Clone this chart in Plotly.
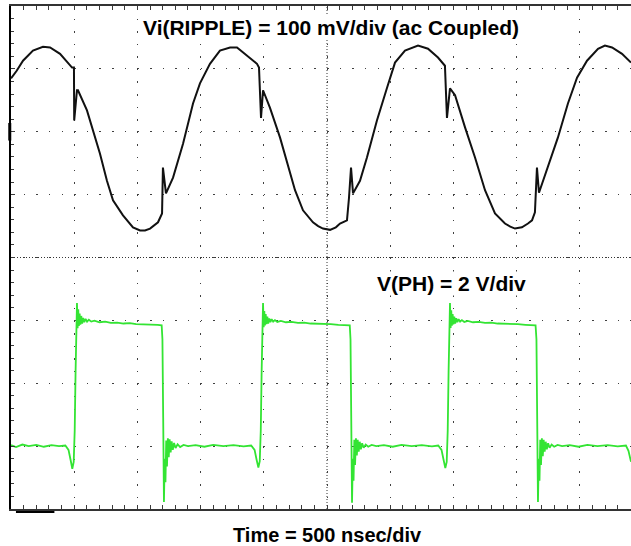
import plotly.graph_objects as go

# ---------------- data ----------------
NS_PER_DIV = 500      # time base
MV_PER_DIV = 100      # ripple channel
V_PER_DIV = 2         # PH channel

ripple_t_ns = [0, 45, 95, 174, 253, 309, 388, 451, 483, 498, 500, 522, 530, 601, 649, 704,
               759, 807, 886, 930, 965, 1021, 1060, 1100, 1163, 1195, 1202, 1226, 1282, 1361, 1440, 1495,
               1574, 1653, 1733, 1788, 1867, 1946, 1962, 1978, 1994, 2049, 2128, 2184, 2247,
               2310, 2389, 2430, 2468, 2524, 2570, 2603, 2658, 2674, 2690, 2706, 2761, 2816, 2895, 2975,
               3038, 3117, 3220, 3299, 3378, 3433, 3449, 3473, 3513, 3592, 3671, 3750, 3829,
               3908, 3950, 3987, 4042, 4090, 4122, 4145, 4161, 4177, 4248, 4327, 4406, 4478, 4557, 4644,
               4699, 4755, 4834, 4905]
ripple_mV = [85, 97, 113, 129, 135, 134, 124, 110, 102, 102, 18, 66, 66, 34, 2, -35,
             -78, -109, -133, -144, -152, -157, -157, -154, -144, -130, -57, -98, -73, -19, 45, 77,
             108, 129, 134, 134, 121, 108, 102, 22, 66, 38, -9, -50, -93,
             -125, -144, -150, -154, -156, -152, -146, -141, -105, -57, -98, -78, -41, 18, 70,
             110, 129, 137, 132, 118, 105, 22, 69, 58, 7, -41, -93, -130,
             -146, -151, -154, -152, -146, -141, -128, -57, -97, -57, -9, 45, 86, 113, 132,
             137, 134, 124, 110]

ph_t_ns = [0, 40, 90, 140, 200, 260, 320, 380, 430,
           455, 472, 485, 496, 504, 511, 517, 522,
           527, 532, 537, 543, 549, 556, 563, 571, 580, 590, 602, 616, 635, 660, 700, 745,
           790, 840, 890, 940, 990, 1050, 1110, 1160, 1192,
           1198, 1204, 1210,
           1216, 1222, 1228, 1234, 1241, 1248, 1255, 1263, 1271, 1280, 1290, 1302, 1318,
           1338, 1365, 1400, 1460, 1530, 1600, 1680, 1760, 1840, 1900,
           1927, 1944, 1957, 1968, 1976, 1983, 1989, 1994,
           1999, 2004, 2009, 2015, 2021, 2028, 2035, 2043, 2052, 2062, 2074, 2088, 2107,
           2135, 2175, 2220, 2270, 2320, 2370, 2420, 2470, 2530, 2590, 2640, 2680,
           2686, 2692, 2698,
           2704, 2710, 2716, 2722, 2729, 2736, 2743, 2751, 2759, 2768, 2778, 2790, 2806,
           2826, 2853, 2890, 2950, 3020, 3090, 3170, 3250, 3330, 3380,
           3406, 3423, 3436, 3447, 3455, 3462, 3468, 3473,
           3478, 3483, 3488, 3494, 3500, 3507, 3514, 3522, 3531, 3541, 3553, 3567, 3586,
           3614, 3655, 3700, 3750, 3800, 3850, 3900, 3950, 4010, 4070, 4120, 4150,
           4157, 4163, 4169,
           4175, 4181, 4187, 4193, 4200, 4207, 4214, 4222, 4230, 4239, 4249, 4261, 4277,
           4297, 4324, 4360, 4420, 4490, 4560, 4640, 4720, 4800, 4865,
           4885, 4905]
ph_V = [0.03, -0.03, 0.05, 0.0, 0.04, -0.02, 0.03, 0.0, 0.02,
        -0.12, -0.45, -0.72, -0.5, 0.5, 2.4, 3.9, 4.55,
        3.75, 4.35, 3.82, 4.22, 3.86, 4.14, 3.9, 4.08, 3.94, 4.05, 3.96, 4.02, 3.96, 3.99, 3.94, 3.96,
        3.92, 3.93, 3.9, 3.91, 3.88, 3.88, 3.86, 3.86, 3.84,
        3.4, 0.9, -1.78,
        -0.4, -1.15, 0.18, -0.65, 0.25, -0.35, 0.22, -0.2, 0.15, -0.12, 0.1, -0.06, 0.06,
        -0.03, 0.04, 0.0, 0.03, -0.02, 0.04, 0.0, 0.03, -0.01, 0.02,
        -0.12, -0.45, -0.68, -0.48, 0.5, 2.4, 3.9, 4.55,
        3.78, 4.3, 3.84, 4.2, 3.88, 4.12, 3.9, 4.06, 3.94, 4.04, 3.96, 4.01, 3.95,
        3.98, 3.94, 3.95, 3.92, 3.93, 3.9, 3.9, 3.88, 3.88, 3.86, 3.86, 3.84,
        3.4, 0.9, -1.8,
        -0.4, -1.1, 0.2, -0.6, 0.25, -0.3, 0.2, -0.18, 0.14, -0.1, 0.09, -0.05, 0.05,
        -0.02, 0.04, 0.0, 0.03, -0.02, 0.04, 0.0, 0.03, -0.01, 0.02,
        -0.12, -0.45, -0.7, -0.5, 0.5, 2.4, 3.9, 4.55,
        3.76, 4.32, 3.83, 4.2, 3.87, 4.12, 3.9, 4.07, 3.94, 4.04, 3.96, 4.01, 3.95,
        3.98, 3.94, 3.95, 3.92, 3.93, 3.9, 3.9, 3.88, 3.88, 3.86, 3.86, 3.84,
        3.4, 0.9, -1.78,
        -0.4, -1.1, 0.2, -0.6, 0.25, -0.32, 0.2, -0.18, 0.14, -0.1, 0.09, -0.05, 0.05,
        -0.02, 0.04, 0.0, 0.03, -0.02, 0.04, 0.0, 0.03, -0.01, 0.02,
        -0.15, -0.5]

label_ripple = "Vi(RIPPLE) = 100 mV/div (ac Coupled)"
label_ph = "V(PH) = 2 V/div"
label_time = "Time = 500 nsec/div"

# ---------------- screen geometry (divisions) ----------------
X_RANGE = [0, 4905]                       # visible part of the 10-div screen
RIPPLE_RANGE = [-6 * MV_PER_DIV, 2 * MV_PER_DIV]   # ripple ground 2 div above centre
PH_RANGE = [-1 * V_PER_DIV, 7 * V_PER_DIV]         # PH ground 3 div below centre
CENTER_T = 5 * NS_PER_DIV
CENTER_MV = -2 * MV_PER_DIV

FONT = "Arial, 'Liberation Sans', Helvetica, sans-serif"
GRID = "#404040"
TICK = "#3a3a3a"

fig = go.Figure()
fig.add_trace(go.Scatter(x=ripple_t_ns, y=ripple_mV, mode="lines",
                         line=dict(color="#111111", width=2), yaxis="y",
                         hoverinfo="skip", showlegend=False))
fig.add_trace(go.Scatter(x=ph_t_ns, y=ph_V, mode="lines",
                         line=dict(color="#33e433", width=1.8), yaxis="y2",
                         hoverinfo="skip", showlegend=False))

common_hidden = dict(showticklabels=False, showgrid=False, zeroline=False, showline=False)

fig.update_layout(
    width=631, height=546, autosize=False,
    margin=dict(l=11, r=0, t=6, b=37),
    paper_bgcolor="white", plot_bgcolor="white",
    showlegend=False,
    xaxis=dict(range=X_RANGE, dtick=NS_PER_DIV, tick0=0,
               showgrid=True, gridcolor=GRID, gridwidth=1.4, griddash="1.5px,11.08px",
               zeroline=False, showticklabels=False,
               showline=True, linecolor="#333333", linewidth=1.5, mirror="allticks",
               ticks="inside", ticklen=4, tickcolor=TICK, tickwidth=1,
               minor=dict(dtick=NS_PER_DIV / 5, ticks="inside", ticklen=3,
                          tickcolor=TICK, tickwidth=1, showgrid=False)),
    yaxis=dict(range=RIPPLE_RANGE, dtick=MV_PER_DIV, tick0=0,
               showgrid=True, gridcolor=GRID, gridwidth=1.4, griddash="1.5px,11.14px",
               zeroline=False, showticklabels=False,
               showline=True, linecolor="#000000", linewidth=2, mirror=False,
               ticks="inside", ticklen=4, tickcolor=TICK, tickwidth=1,
               minor=dict(dtick=MV_PER_DIV / 5, ticks="inside", ticklen=3,
                          tickcolor=TICK, tickwidth=1, showgrid=False)),
    yaxis2=dict(range=PH_RANGE, overlaying="y", visible=False),
    # centre cross-hair tick marks
    xaxis3=dict(range=X_RANGE, overlaying="x", anchor="free", position=0.5,
                dtick=NS_PER_DIV / 5, tick0=0, ticks="outside", ticklen=3,
                tickcolor=TICK, tickwidth=1, **common_hidden),
    xaxis4=dict(range=X_RANGE, overlaying="x", anchor="free", position=0.5,
                dtick=NS_PER_DIV / 5, tick0=0, ticks="inside", ticklen=3,
                tickcolor=TICK, tickwidth=1, **common_hidden),
    yaxis3=dict(range=RIPPLE_RANGE, overlaying="y", anchor="free",
                position=CENTER_T / X_RANGE[1],
                dtick=MV_PER_DIV / 5, tick0=0, ticks="outside", ticklen=3,
                tickcolor=TICK, tickwidth=1, **common_hidden),
    yaxis4=dict(range=RIPPLE_RANGE, overlaying="y", anchor="free",
                position=CENTER_T / X_RANGE[1],
                dtick=MV_PER_DIV / 5, tick0=0, ticks="inside", ticklen=3,
                tickcolor=TICK, tickwidth=1, **common_hidden),
)

# centre cross-hair dotted lines
fig.add_shape(type="line", xref="paper", yref="y", x0=0, x1=1, y0=CENTER_MV, y1=CENTER_MV,
              line=dict(color="#333333", width=1, dash="1px,2px"), layer="between")
fig.add_shape(type="line", xref="x", yref="paper", x0=CENTER_T, x1=CENTER_T, y0=0, y1=1,
              line=dict(color="#333333", width=1, dash="1px,2px"), layer="between")
# channel-1 ground marker on the left edge and reference bar under the screen
fig.add_shape(type="line", xref="paper", yref="y", x0=-0.002, x1=-0.002, y0=-14, y1=14,
              line=dict(color="black", width=3))
fig.add_shape(type="line", xref="paper", yref="paper", x0=0.008, x1=0.07, y0=-0.006, y1=-0.006,
              line=dict(color="black", width=2))

fig.add_annotation(text=label_ripple, xref="paper", yref="paper", x=0.516, y=0.957,
                   xanchor="center", yanchor="middle", showarrow=False,
                   bgcolor="white", borderpad=0,
                   font=dict(family=FONT, size=21, color="black", weight="bold"))
fig.add_annotation(text=label_ph, xref="paper", yref="paper", x=0.71, y=0.449,
                   xanchor="center", yanchor="middle", showarrow=False,
                   bgcolor="white", borderpad=0,
                   font=dict(family=FONT, size=21, color="black", weight="bold"))
fig.add_annotation(text=label_time, xref="paper", yref="paper", x=0.51, y=-0.052,
                   xanchor="center", yanchor="middle", showarrow=False,
                   font=dict(family=FONT, size=20, color="black", weight="bold"))

fig.write_html("out.html", config={"displayModeBar": False},
               post_script="document.body.style.margin='0px';"
                           "document.body.style.overflow='hidden';")
